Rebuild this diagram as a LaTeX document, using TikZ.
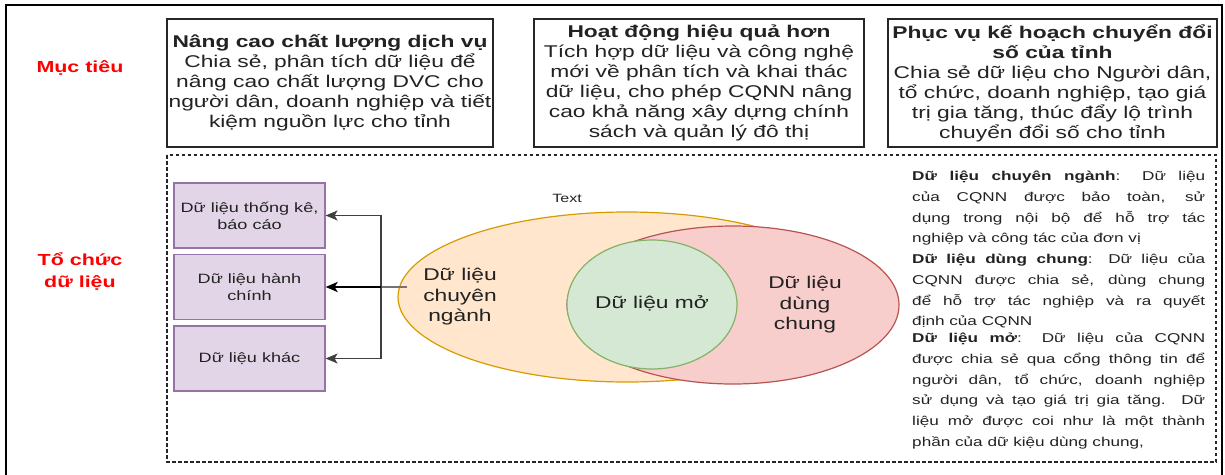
\documentclass[tikz,border=0pt]{standalone}
\usepackage{fontspec}
\setmainfont{Liberation Sans}[FakeStretch=1.34]
\usetikzlibrary{arrows.meta,shapes.geometric}
\definecolor{purfill}{HTML}{E1D5E7}
\definecolor{purline}{HTML}{9673A6}
\definecolor{orfill}{HTML}{FFE6CC}
\definecolor{orline}{HTML}{D79B00}
\definecolor{rdfill}{HTML}{F8CECC}
\definecolor{rdline}{HTML}{B85450}
\definecolor{grfill}{HTML}{D5E8D4}
\definecolor{grline}{HTML}{82B366}
\definecolor{txt}{HTML}{222222}
\definecolor{lbl}{HTML}{FF0000}
\begin{document}
\begin{tikzpicture}[x=1pt,y=-1pt,
  frame/.style={draw=black, line width=2pt},
  dashbox/.style={draw=black!85, line width=1.2pt, dash pattern=on 3.5pt off 2.5pt},
  goalbox/.style={draw=black!85, line width=1.6pt, inner sep=0pt, align=center, text=txt,
    minimum height=128pt, font=\fontsize{17}{20}\selectfont},
  rowlabel/.style={text=lbl, align=center, font=\bfseries\fontsize{16}{22}\selectfont},
  purbox/.style={draw=purline, fill=purfill, line width=1.2pt, minimum width=151pt, minimum height=65pt,
    inner sep=0pt, align=center, text=txt, font=\fontsize{13.5}{17}\selectfont},
  venn/.style={ellipse, line width=1.2pt, inner sep=0pt},
  vennlabel/.style={align=center, text=txt, font=\fontsize{17}{20.5}\selectfont},
  desc/.style={anchor=north west, inner sep=0pt, text width=293pt, align=justify, text=txt,
    font=\fontsize{12.8}{20.7}\selectfont},
  tip/.style={-{Stealth[length=12pt,width=10pt,inset=3pt]}},
  lineA/.style={draw=black!75, line width=1.3pt},
  lineB/.style={draw=black, line width=2.2pt},
  lineC/.style={draw=black!55, line width=1.1pt}
]
\useasboundingbox (0,0) rectangle (1225,474);
% outer frame
\draw[frame] (5.8,5) rectangle (1222.3,490);
% row labels
\node[rowlabel] (muctieu) at (80,68) {Mục tiêu};
\node[rowlabel] (tochuc) at (80,271) {Tổ chức\\dữ liệu};
% goal boxes
\node[goalbox, minimum width=326pt] (g1) at (330,83)
  {\textbf{Nâng cao chất lượng dịch vụ}\\Chia sẻ, phân tích dữ liệu để\\nâng cao chất lượng DVC cho\\người dân, doanh nghiệp và tiết\\kiệm nguồn lực cho tỉnh};
\node[goalbox, minimum width=330pt] (g2) at (699,83)
  {\textbf{Hoạt động hiệu quả hơn}\\Tích hợp dữ liệu và công nghệ\\mới về phân tích và khai thác\\dữ liệu, cho phép CQNN nâng\\cao khả năng xây dựng chính\\sách và quản lý đô thị};
\node[goalbox, minimum width=329pt] (g3) at (1052.5,83)
  {\textbf{Phục vụ kế hoạch chuyển đổi}\\\textbf{số của tỉnh}\\Chia sẻ dữ liệu cho Người dân,\\tổ chức, doanh nghiệp, tạo giá\\trị gia tăng, thúc đẩy lộ trình\\chuyển đổi số cho tỉnh};
% dashed container
\draw[dashbox] (167,155) rectangle (1216,462);
% purple boxes
\node[purbox] (pa) at (249.5,215.5) {Dữ liệu thống kê,\\báo cáo};
\node[purbox] (pb) at (249.5,287) {Dữ liệu hành\\chính};
\node[purbox] (pc) at (249.5,358.5) {Dữ liệu khác};
% venn
\node[venn, draw=orline, fill=orfill, minimum width=458pt, minimum height=170pt] (orange) at (627,297) {};
\node[venn, draw=rdline, fill=rdfill, minimum width=332pt, minimum height=158pt] (red) at (733,305) {};
\node[venn, draw=grline, fill=grfill, minimum width=170pt, minimum height=129pt] (green) at (652,304.5) {};
\node[vennlabel] (open) at (652,303) {Dữ liệu mở};
\node[vennlabel] (spec) at (460,297) {Dữ liệu\\chuyên\\ngành};
\node[vennlabel] (shared) at (805,305) {Dữ liệu\\dùng\\chung};
\node[text=txt, font=\fontsize{12}{14}\selectfont] (textlbl) at (567,198) {Text};
% connectors
\coordinate (src) at (407,287);
\coordinate (J) at (381,287);
\draw[lineC] (src) -- (J);
\draw[lineA, tip] (J) |- (pa.east);
\draw[lineA, tip] (J) |- (pc.east);
\draw[lineB, tip] (J) -- (pb.east);
% descriptions
\node[desc] (d1) at (912,166) {\strut\textbf{Dữ liệu chuyên ngành}: Dữ liệu\linebreak
 của CQNN được bảo toàn, sử\linebreak
 dụng trong nội bộ để hỗ trợ tác\linebreak
 nghiệp và công tác của đơn vị};
\node[desc] (d2) at (912,249) {\strut\textbf{Dữ liệu dùng chung}: Dữ liệu của\linebreak
 CQNN được chia sẻ, dùng chung\linebreak
 để hỗ trợ tác nghiệp và ra quyết\linebreak
 định của CQNN};
\node[desc] (d3) at (912,328) {\strut\textbf{Dữ liệu mở}: Dữ liệu của CQNN\linebreak
 được chia sẻ qua cổng thông tin để\linebreak
 người dân, tổ chức, doanh nghiệp\linebreak
 sử dụng và tạo giá trị gia tăng. Dữ\linebreak
 liệu mở được coi như là một thành\linebreak
 phần của dữ kiệu dùng chung,};
\end{tikzpicture}
\end{document}
